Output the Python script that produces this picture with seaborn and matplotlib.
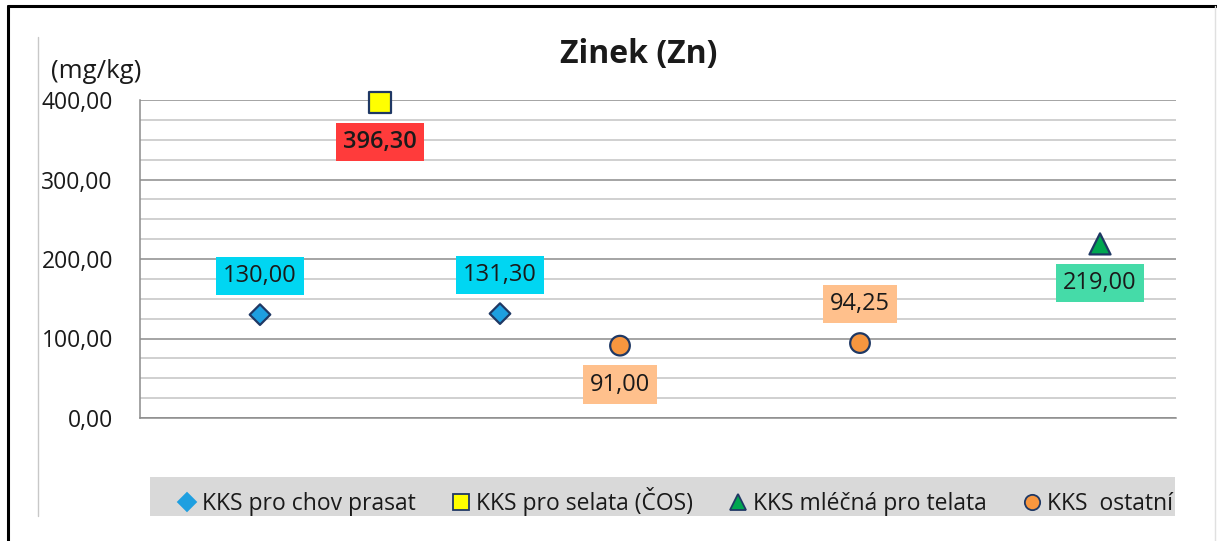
import matplotlib
matplotlib.use('Agg')
import matplotlib.pyplot as plt
from matplotlib.lines import Line2D
from matplotlib.patches import Rectangle
from matplotlib.ticker import MultipleLocator
import seaborn as sns
import pandas as pd

# data
groups = ['KKS pro chov prasat', 'KKS pro selata (ČOS)', 'KKS mléčná pro telata', 'KKS  ostatní']
sample = [1, 3, 2, 8, 4, 6]
value = [130.00, 131.30, 396.30, 219.00, 91.00, 94.25]
group = [groups[0], groups[0], groups[1], groups[2], groups[3], groups[3]]
value_labels = ['130,00', '131,30', '396,30', '219,00', '91,00', '94,25']
y_ticks = [0, 100, 200, 300, 400]
y_tick_labels = ['0,00', '100,00', '200,00', '300,00', '400,00']

# styling
label_side = ['above', 'above', 'below', 'below', 'below', 'above']
label_colors = ['#00D6F2', '#00D6F2', '#FF3B3B', '#45DBA8', '#FFC08C', '#FFC08C']
label_weight = ['normal', 'normal', 'semibold', 'normal', 'normal', 'normal']
palette = {groups[0]: '#1E9FE0', groups[1]: '#FFFF00', groups[2]: '#00A650', groups[3]: '#F7963F'}
markers = {groups[0]: 'D', groups[1]: 's', groups[2]: '^', groups[3]: 'o'}
sizes = {groups[0]: 110, groups[1]: 230, groups[2]: 230, groups[3]: 200}
edge = '#1F3864'

df = pd.DataFrame({'sample': sample, 'value': value, 'group': group})

sns.set_style('white')
plt.rcParams['font.family'] = ['Open Sans', 'DejaVu Sans']
plt.rcParams['text.color'] = '#1a1a1a'

W, H = 1217, 541
fig = plt.figure(figsize=(W / 100, H / 100), dpi=100)
ax = fig.add_axes([140 / W, 1 - 418 / H, 1036 / W, 318 / H])

sns.scatterplot(data=df, x='sample', y='value', hue='group', style='group', size='group',
                palette=palette, markers=markers, sizes=sizes, edgecolor=edge, linewidth=1.6,
                legend=False, ax=ax, zorder=5, clip_on=False)

ax.set_xlim(0, 1036 / 120)
ax.set_ylim(0, 400)
ax.set_yticks(y_ticks)
ax.set_yticklabels(y_tick_labels)
ax.set_xticks([])
ax.yaxis.set_minor_locator(MultipleLocator(25))
ax.grid(True, which='minor', axis='y', color='#C4C4C4', lw=1.1)
ax.grid(True, which='major', axis='y', color='#8C8C8C', lw=1.1)
ax.tick_params(axis='y', which='major', length=6.5, width=1, color='#8C8C8C', pad=13,
               labelsize=16.5, labelcolor='#1a1a1a')
ax.tick_params(axis='y', which='minor', length=0)
ax.set_xlabel('')
ax.set_ylabel('')
for s in ['top', 'right']:
    ax.spines[s].set_visible(False)
for s in ['left', 'bottom']:
    ax.spines[s].set_color('#8C8C8C')
    ax.spines[s].set_linewidth(1.1)

# data labels
for x, y, txt, side, c, fw in zip(sample, value, value_labels, label_side, label_colors, label_weight):
    dy = 28 if side == 'above' else -28
    ax.annotate(txt, (x, y), xytext=(0, dy), textcoords='offset points', ha='center', va='center',
                fontsize=17, fontweight=fw, zorder=6,
                bbox=dict(boxstyle='square,pad=0.3', fc=c, ec='none'))

fig.text(639 / W, 1 - 55 / H, 'Zinek (Zn)', ha='center', va='center', fontsize=23, fontweight='bold')
fig.text(96 / W, 1 - 72 / H, '(mg/kg)', ha='center', va='center', fontsize=18.5)

# legend band
fig.add_artist(Rectangle((150 / W, 1 - 516 / H), 1025 / W, 39 / H, transform=fig.transFigure,
                         fc='#D9D9D9', ec='none', zorder=0))
handles = [Line2D([], [], ls='none', marker=markers[g], markersize=11 if g != groups[0] else 9,
                  markerfacecolor=palette[g], markeredgecolor=edge if g != groups[0] else palette[g],
                  markeredgewidth=1.3) for g in groups]
leg = fig.legend(handles, groups, ncol=4, loc='center', mode='expand',
                 bbox_to_anchor=(178 / W, 1 - 521 / H, 995 / W, 39 / H),
                 fontsize=16.5, frameon=False, handlelength=0.8, handletextpad=0.25,
                 borderaxespad=0, borderpad=0)

# outer frame lines
fig.add_artist(Line2D([8 / W, 8 / W], [0, 1 - 6 / H], color='black', lw=2.2))
fig.add_artist(Line2D([8 / W, 1], [1 - 6 / H, 1 - 6 / H], color='black', lw=2.2))
fig.add_artist(Line2D([1215 / W, 1215 / W], [0, 1 - 6 / H], color='#E0E0E0', lw=1))
fig.add_artist(Line2D([38 / W, 38 / W], [1 - 516 / H, 1 - 37 / H], color='#C8C8C8', lw=1))

fig.savefig('out.png', dpi=100)
